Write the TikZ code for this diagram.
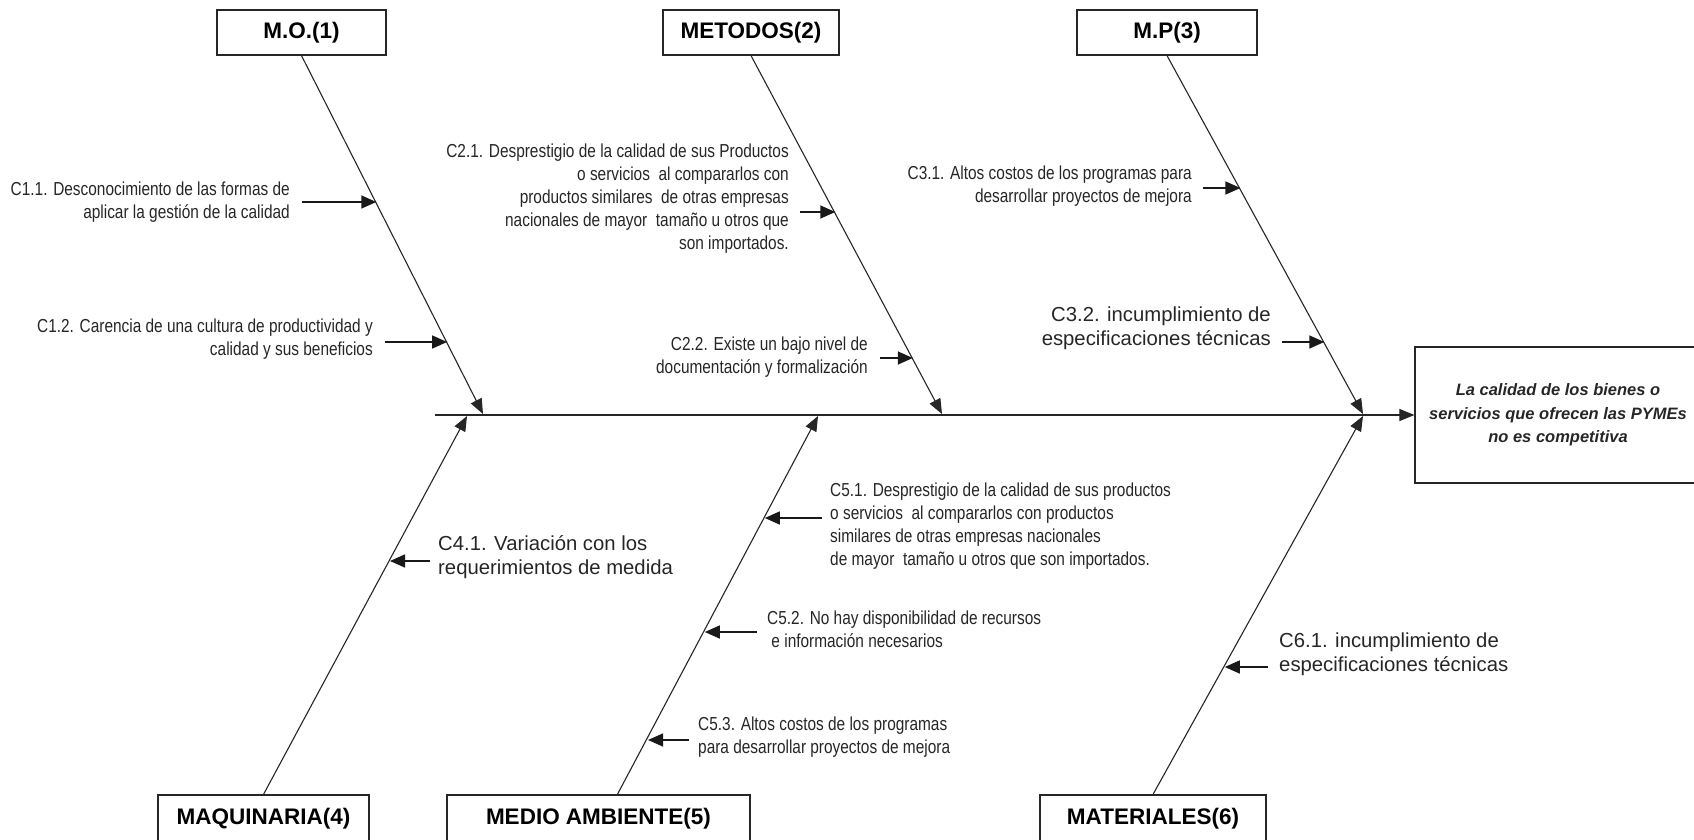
\documentclass[tikz,border=0pt]{standalone}
\usepackage{fontspec}
\setmainfont{Liberation Sans}
\newfontfamily\narrowfont[FakeStretch=0.82]{Liberation Sans}
\usetikzlibrary{arrows.meta,calc}

\begin{document}
\begin{tikzpicture}[x=1pt,y=-1pt,
  catbox/.style={draw=black!85,line width=1.2pt,minimum height=45pt,inner sep=0pt,
    font=\fontsize{22.5}{27}\selectfont\bfseries},
  effbox/.style={draw=black!85,line width=1.2pt,minimum width=286pt,minimum height=136pt,
    inner sep=0pt,align=center,text=black!85,
    font=\fontsize{16.5}{23.5}\selectfont\bfseries\itshape},
  bone/.style={draw=black!85,line width=1.1pt,-{Triangle[length=15pt,width=12pt]}},
  cause/.style={draw=black!90,line width=1.5pt,-{Triangle[length=15pt,width=13pt]}},
  smalltxt/.style={font=\narrowfont\fontsize{18.8}{23}\selectfont,text=black!85,inner sep=0pt},
  largetxt/.style={font=\fontsize{20.3}{24.5}\selectfont,text=black!85,inner sep=0pt},
]
\useasboundingbox (0,0) rectangle (1694,840);

% category boxes
\node[catbox,minimum width=169pt] (mo)  at (301.5,32.5) {M.O.(1)};
\node[catbox,minimum width=176pt] (met) at (751,32.5)   {METODOS(2)};
\node[catbox,minimum width=180pt] (mp)  at (1167,32.5)  {M.P(3)};
\node[catbox,minimum width=211pt,minimum height=47pt] (maq) at (263.5,818.5) {MAQUINARIA(4)};
\node[catbox,minimum width=303pt,minimum height=47pt] (med) at (598.5,818.5) {MEDIO AMBIENTE(5)};
\node[catbox,minimum width=226pt,minimum height=47pt] (mat) at (1153,818.5)  {MATERIALES(6)};

% effect box
\node[effbox] (eff) at (1558,415) {La calidad de los bienes o\\servicios que ofrecen las PYMEs\\no es competitiva};

% spine
\coordinate (sp) at (435,415);
\draw[bone] (sp) -- (eff.west);

% bones
\coordinate (b1) at (483,414);
\coordinate (b2) at (942,414);
\coordinate (b3) at (1363,414);
\coordinate (b4) at (467,416);
\coordinate (b5) at (818,416);
\coordinate (b6) at (1363,416);
\coordinate (medtop) at ($(med.north west)+(171,0)$);
\draw[bone] (mo.south) -- (b1);
\draw[bone] (met.south) -- (b2);
\draw[bone] (mp.south) -- (b3);
\draw[bone] (maq.north) -- (b4);
\draw[bone] (medtop) -- (b5);
\draw[bone] (mat.north) -- (b6);

% causes, upper half
\node[smalltxt,align=right,anchor=east] (c11) at (290,202)
  {C1.1. Desconocimiento de las formas de\\aplicar la gestión de la calidad};
\node[smalltxt,align=right,anchor=east] (c12) at (373,339)
  {C1.2. Carencia de una cultura de productividad y\\calidad y sus beneficios};
\node[smalltxt,align=right,anchor=east] (c21) at (789,199)
  {C2.1. Desprestigio de la calidad de sus Productos\\o servicios\ \ al compararlos con\\productos similares\ \ de otras empresas\\nacionales de mayor\ \ tamaño u otros que\\son importados.};
\node[smalltxt,align=right,anchor=east] (c22) at (868,357)
  {C2.2. Existe un bajo nivel de\\documentación y formalización};
\node[smalltxt,align=right,anchor=east] (c31) at (1192,186)
  {C3.1. Altos costos de los programas para\\desarrollar proyectos de mejora};
\node[largetxt,align=right,anchor=east] (c32) at (1271,328)
  {C3.2. incumplimiento de\\especificaciones técnicas};

% causes, lower half
\node[largetxt,align=left,anchor=west] (c41) at (438,557)
  {C4.1. Variación con los\\requerimientos de medida};
\node[smalltxt,align=left,anchor=west] (c51) at (830,526)
  {C5.1. Desprestigio de la calidad de sus productos\\o servicios\ \ al compararlos con productos\\similares de otras empresas nacionales\\de mayor\ \ tamaño u otros que son importados.};
\node[smalltxt,align=left,anchor=west] (c52) at (767,629)
  {C5.2. No hay disponibilidad de recursos\\\ e información necesarios};
\node[smalltxt,align=left,anchor=west] (c53) at (698,737)
  {C5.3. Altos costos de los programas\\para desarrollar proyectos de mejora};
\node[largetxt,align=left,anchor=west] (c61) at (1279,654)
  {C6.1. incumplimiento de\\especificaciones técnicas};

% cause arrows
\coordinate (s11) at (302,202);  \coordinate (t11) at (376.3,202);
\coordinate (s12) at (385,342);  \coordinate (t12) at (447.1,342);
\coordinate (s21) at (800,212);  \coordinate (t21) at (835.3,212);
\coordinate (s22) at (880,358);  \coordinate (t22) at (912.8,358);
\coordinate (s31) at (1203,188); \coordinate (t31) at (1240.4,188);
\coordinate (s32) at (1282,342); \coordinate (t32) at (1324.3,342);
\coordinate (s41) at (430,561);  \coordinate (t41) at (390,561);
\coordinate (s51) at (822,518);  \coordinate (t51) at (764.8,518);
\coordinate (s52) at (757,632);  \coordinate (t52) at (704.8,632);
\coordinate (s53) at (689,740);  \coordinate (t53) at (648,740);
\coordinate (s61) at (1268,667); \coordinate (t61) at (1224.8,667);
\foreach \k in {11,12,21,22,31,32,41,51,52,53,61}
  \draw[cause] (s\k) -- (t\k);
\end{tikzpicture}
\end{document}
